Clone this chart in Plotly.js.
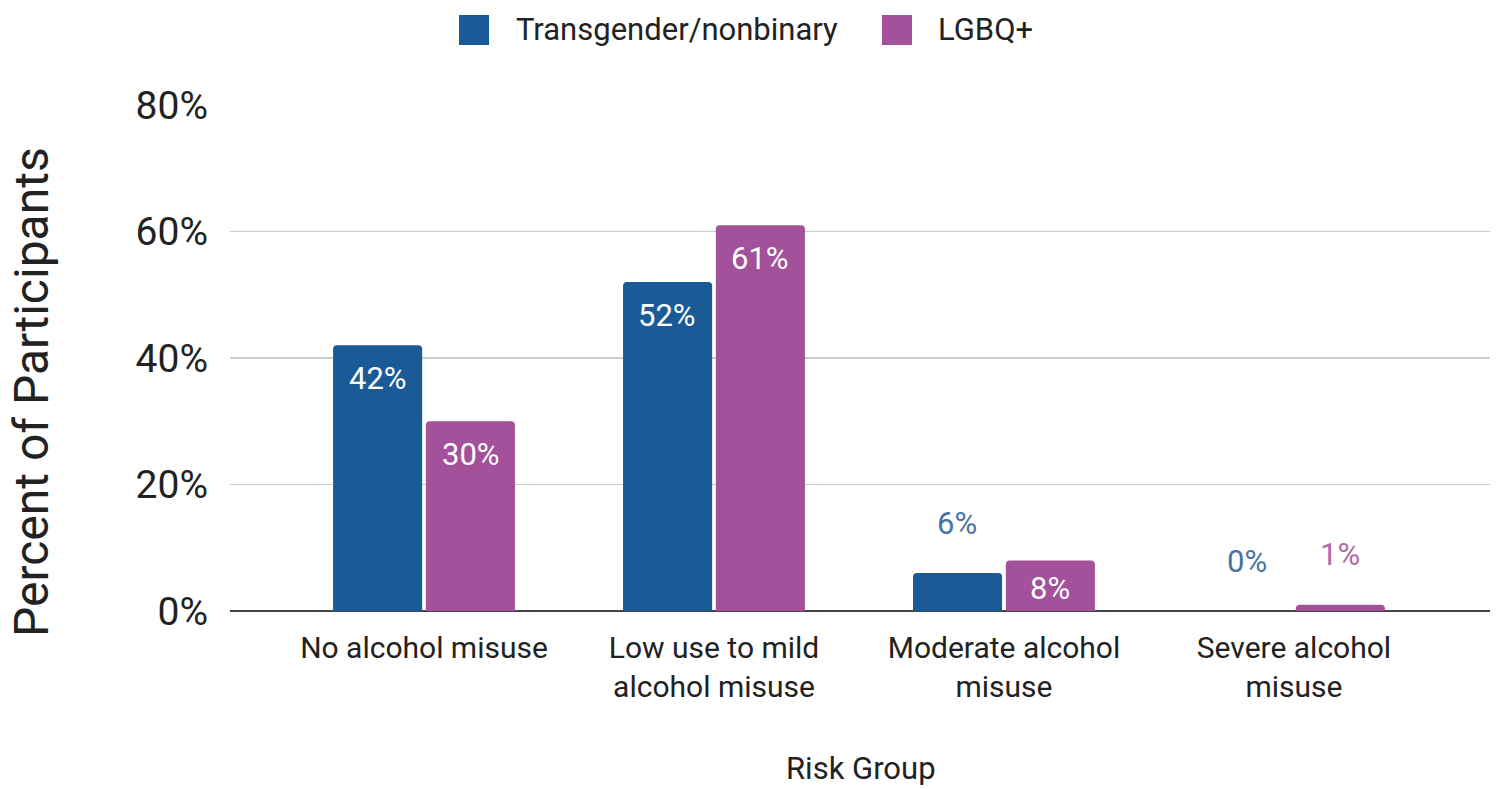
<!DOCTYPE html>
<html>
<head>
<meta charset="utf-8">
<script src="https://cdn.plot.ly/plotly-3.0.1.min.js"></script>
<style>html,body{margin:0;padding:0;background:#fff;}#chart{width:1501px;height:789px;}</style>
</head>
<body>
<div id="chart"></div>
<script>
// ---- data ----
const categories = ["No alcohol misuse", "Low use to mild<br>alcohol misuse", "Moderate alcohol<br>misuse", "Severe alcohol<br>misuse"];
const seriesNames = ["Transgender/nonbinary", "LGBQ+"];
const transValues = [42, 52, 6, 0];
const lgbqValues = [30, 61, 8, 1];
const yTickVals = [0, 20, 40, 60, 80];
const xTitle = "Risk Group";
const yTitle = "Percent of Participants";

// ---- style ----
const colors = ["#1a5a97", "#a3519a"];
const outsideLabelColors = ["#4673a3", "#b06aa8"];
const FONT = "Roboto, 'Noto Sans', Arial, sans-serif";
const W = 1501, H = 789;
const M = {l: 230, r: 11, t: 105, b: 178};
const plotW = W - M.l - M.r, plotH = H - M.t - M.b;
const yMax = 80;
const pxPerUnit = plotH / yMax;
const insideThreshold = 7;
const slotPx = 46.5;

const allValues = [transValues, lgbqValues];

const traces = allValues.map((vals, i) => ({
  type: "bar",
  name: seriesNames[i],
  x: categories,
  y: vals,
  marker: {color: colors[i], line: {width: 0}},
  hoverinfo: "skip",
  showlegend: false
}));

const px2x = px => (px - M.l) / plotW;
const px2y = py => (H - M.b - py) / plotH;

const annotations = [];
allValues.forEach((vals, i) => {
  vals.forEach((v, j) => {
    const inside = v >= insideThreshold;
    const barPx = v * pxPerUnit;
    annotations.push({
      x: categories[j], y: v, xref: "x", yref: "y",
      xshift: (i === 0 ? -1 : 1) * slotPx,
      yshift: inside ? -Math.min(33, barPx / 2 + 3) : 50,
      text: v + "%", showarrow: false,
      xanchor: "center", yanchor: "middle",
      font: {family: FONT, size: 31, color: inside ? "#ffffff" : outsideLabelColors[i]}
    });
  });
});

// custom legend (large squares like the reference)
const legendItems = [{sq: 459, text: 514}, {sq: 882, text: 936}];
const shapes = [];
legendItems.forEach((it, i) => {
  shapes.push({
    type: "rect", xref: "paper", yref: "paper",
    x0: px2x(it.sq), x1: px2x(it.sq + 30),
    y0: px2y(45), y1: px2y(15),
    fillcolor: colors[i], line: {width: 0}
  });
  annotations.push({
    xref: "paper", yref: "paper", x: px2x(it.text), y: px2y(30),
    xanchor: "left", yanchor: "middle", showarrow: false,
    text: seriesNames[i],
    font: {family: FONT, size: 31, color: "#222222"}
  });
});

// axis titles
annotations.push({
  xref: "paper", yref: "paper", x: px2x(861), y: px2y(768),
  xanchor: "center", yanchor: "middle", showarrow: false,
  text: xTitle, font: {family: FONT, size: 31, color: "#222222"}
});
annotations.push({
  xref: "paper", yref: "paper", x: px2x(31), y: px2y(392),
  xanchor: "center", yanchor: "middle", showarrow: false, textangle: -90,
  text: yTitle, font: {family: FONT, size: 48, color: "#222222"}
});

const layout = {
  width: W, height: H,
  margin: M,
  paper_bgcolor: "#ffffff", plot_bgcolor: "#ffffff",
  barmode: "group",
  bargap: 0.36,
  bargroupgap: 0.04,
  barcornerradius: 4,
  showlegend: false,
  font: {family: FONT, color: "#222222"},
  xaxis: {
    type: "category",
    range: [-0.669, 3.676],
    showgrid: false, showline: false, zeroline: false,
    ticks: "",
    tickfont: {family: FONT, size: 30, color: "#222222"},
    ticklabelstandoff: 16,
    automargin: false
  },
  yaxis: {
    range: [0, yMax],
    tickvals: yTickVals,
    ticktext: yTickVals.map(v => v + "%"),
    showgrid: true, gridcolor: "#cccccc", gridwidth: 1.5,
    zeroline: true, zerolinecolor: "#444444", zerolinewidth: 2,
    showline: false, ticks: "",
    tickfont: {family: FONT, size: 39, color: "#222222"},
    ticklabelstandoff: 21,
    automargin: false
  },
  shapes: shapes,
  annotations: annotations
};

Plotly.newPlot("chart", traces, layout, {displayModeBar: false, staticPlot: true});
</script>
</body>
</html>
